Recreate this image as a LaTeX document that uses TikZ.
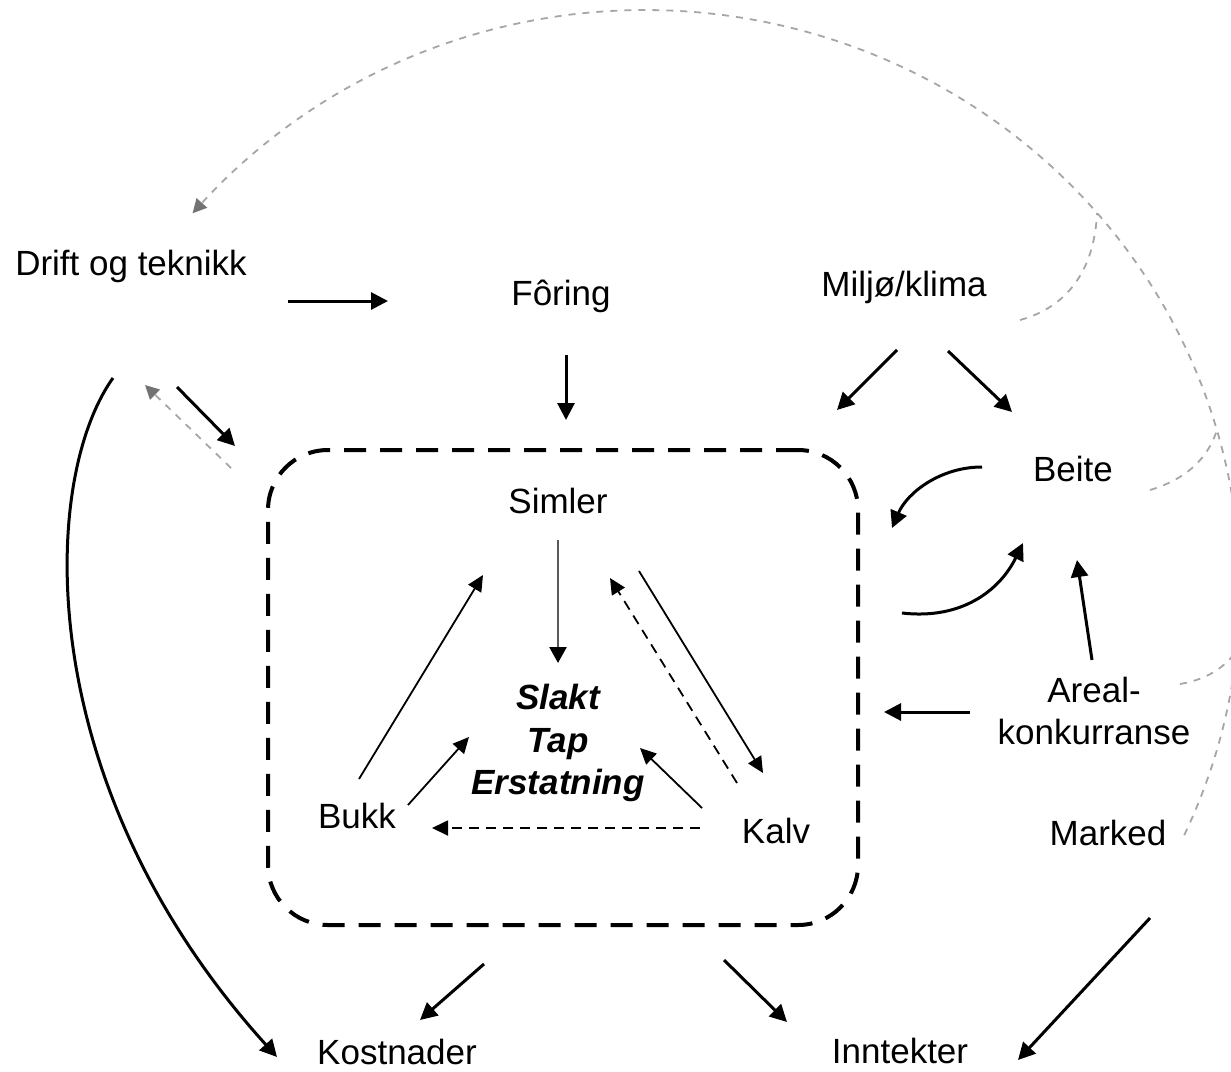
\documentclass[tikz,border=0pt]{standalone}
\usepackage{fontspec}
\setmainfont{Liberation Sans}
\usetikzlibrary{arrows.meta,calc}
\begin{document}
\begin{tikzpicture}[x=1pt,y=-1pt,
  lbl/.style={font=\fontsize{35}{42.5}\selectfont, inner sep=0pt},
  arr/.style={line width=3pt, -{Triangle[length=17pt,width=17pt]}},
  tarr/.style={line width=1.8pt, -{Triangle[length=16pt,width=15pt]}},
  tdash/.style={tarr, dash pattern=on 10pt off 7pt},
  garr/.style={draw=gray!70, line width=1.8pt, dash pattern=on 7pt off 7pt, -{Triangle[length=14pt,width=14pt,color=gray!90!black]}},
  gline/.style={draw=gray!70, line width=1.8pt, dash pattern=on 7pt off 7pt},
  boxst/.style={draw, line width=4pt, dash pattern=on 22pt off 14pt, rounded corners=60pt, minimum width=590pt, minimum height=475pt, inner sep=0pt}
]
\useasboundingbox (0,0) rectangle (1231,1071);

% nodes
\node[lbl, anchor=base] (drift) at (131,275) {Drift og teknikk};
\node[lbl, anchor=base] (foring) at (561,305) {Fôring};
\node[lbl, anchor=base] (miljo) at (904,296) {Miljø/klima};
\node[lbl, anchor=base] (beite) at (1073,481) {Beite};
\node[lbl, align=center] (areal) at (1094,711) {Areal-\\konkurranse};
\node[lbl, anchor=base] (marked) at (1108,845) {Marked};
\node[lbl, anchor=base] (simler) at (558,513) {Simler};
\node[lbl, align=center, font=\fontsize{35}{42.5}\selectfont\bfseries\itshape] (slakt) at (558,743) {Slakt\\Tap\\Erstatning};
\node[lbl, anchor=base] (bukk) at (357,828) {Bukk};
\node[lbl, anchor=base] (kalv) at (776,843) {Kalv};
\node[lbl, anchor=base] (kost) at (397,1064) {Kostnader};
\node[lbl, anchor=base] (innt) at (900,1063) {Inntekter};
\node[boxst] (box) at (563,687.5) {};

% outer connectors
\draw[arr] ($(drift.base)+(157,26)$) -- ($(foring.base)+(-173,-4)$);
\draw[arr] ($(foring.base)+(5,50)$) -- ($(box.north)+(3,-28)$);
\draw[arr] ($(miljo.base)+(-7,54)$) -- ($(box.north east)+(-23,-38)$);
\draw[arr] ($(miljo.base)+(44,55)$) -- ($(beite.base)+(-61,-69)$);
\draw[arr] ($(beite.base)+(-91,-14)$) .. controls +(-42,0) and +(15,-35) .. ($(box.north east)+(32,80)$);
\draw[arr] ($(box.east)+(42,-74.5)$) .. controls +(60,7) and +(-23,47) .. ($(beite.base)+(-50,62)$);
\draw[arr] ($(areal.center)+(-2,-51)$) -- ($(beite.base)+(4,79)$);
\draw[arr] ($(areal.center)+(-124,1)$) -- ($(box.east)+(24,24.5)$);
\draw[arr] ($(drift.base)+(46,112)$) -- ($(box.north west)+(-31,-2)$);
\draw[garr] ($(box.north west)+(-35,20)$) -- ($(drift.base)+(14,110)$);
\draw[arr] ($(drift.base)+(-18,103)$) .. controls +(-73,102) and +(-247,-273) .. ($(kost.base)+(-120,-7)$);
\draw[arr] ($(box.south)+(-79,37)$) -- ($(kost.base)+(23,-44)$);
\draw[arr] ($(box.south)+(161,33)$) -- ($(innt.base)+(-113,-41)$);
\draw[arr] ($(marked.base)+(42,73)$) -- ($(innt.base)+(118,-3)$);

% inner connectors
\draw[line width=2.6pt, draw=gray!70!black, -{Triangle[length=16pt,width=17pt,color=black]}] ($(simler.base)+(0,27)$) -- ($(slakt.center)+(0,-80)$);
\draw[tarr] ($(bukk.base)+(2,-49)$) -- ($(simler.base)+(-75,62)$);
\draw[tarr] ($(bukk.base)+(51,-23)$) -- ($(slakt.center)+(-89,-6)$);
\draw[tarr] ($(simler.base)+(81,58)$) -- ($(kalv.base)+(-13,-70)$);
\draw[tdash] ($(kalv.base)+(-39,-60)$) -- ($(simler.base)+(52,65)$);
\draw[tarr] ($(kalv.base)+(-74,-35)$) -- ($(slakt.center)+(82,5)$);
\draw[tdash] ($(kalv.base)+(-76,-15)$) -- ($(bukk.base)+(75,0)$);

% grey feedback arc from Marked to Drift og teknikk, with branches
\coordinate (j1) at (1097,213);
\coordinate (j2) at (1217,430);
\coordinate (j3) at (1237,650);
\draw[garr] plot[domain=25:-139.5, samples=90, smooth] ({645+595*cos(\x)},{590+580*sin(\x)});
\draw[gline] ($(miljo.base)+(116,24)$) .. controls +(55,-15) and +(-2,47) .. (j1);
\draw[gline] ($(beite.base)+(77,9)$) .. controls +(40,-12) and +(-8,25) .. (j2);
\draw[gline] ($(areal.center)+(86,-27)$) .. controls +(25,-4) and +(-12,18) .. (j3);
\end{tikzpicture}
\end{document}
